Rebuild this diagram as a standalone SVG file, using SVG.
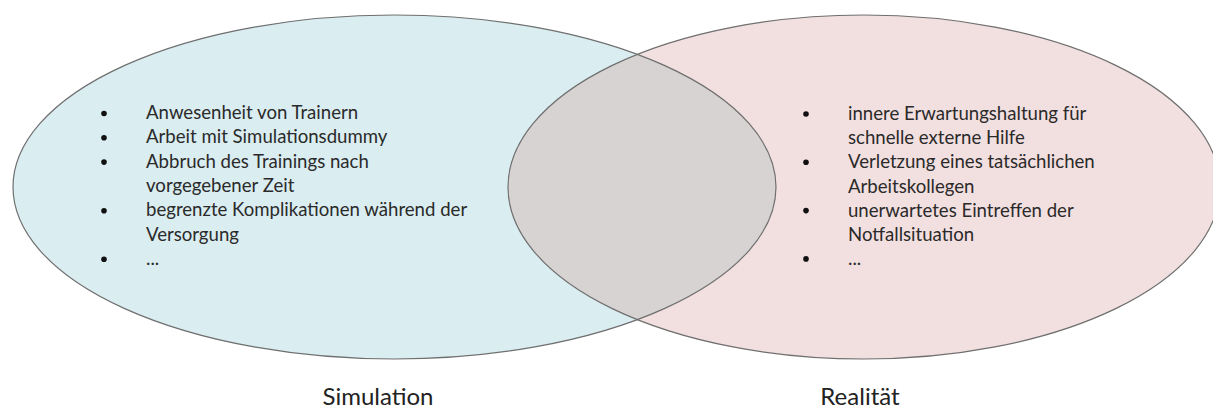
<svg xmlns="http://www.w3.org/2000/svg" width="1213" height="412" viewBox="0 0 1213 412">
  <style>
    .item { font-family: Lato, "Open Sans", "Liberation Sans", sans-serif; font-size: 18.6px; fill: #2a2a2a; }
    .label { font-family: Lato, "Open Sans", "Liberation Sans", sans-serif; font-size: 24px; fill: #222; text-anchor: middle; }
    .outline { fill: none; stroke: #6f6f6f; stroke-width: 1.2; }
    .bullet { fill: #111; }
  </style>
  <defs>
    <clipPath id="clipLeft">
      <ellipse cx="394.5" cy="187" rx="381.5" ry="172"/>
    </clipPath>
  </defs>
  <g id="simulation">
    <ellipse cx="394.5" cy="187" rx="381.5" ry="172" fill="#daedf1"/>
  </g>
  <g id="realitaet">
    <ellipse cx="864" cy="187" rx="356" ry="172" fill="#f2dfdf"/>
  </g>
  <g id="overlap">
    <ellipse cx="864" cy="187" rx="356" ry="172" fill="#d8d3d3" clip-path="url(#clipLeft)"/>
  </g>
  <g id="outlines">
    <ellipse class="outline" cx="394.5" cy="187" rx="381.5" ry="172"/>
    <ellipse class="outline" cx="864" cy="187" rx="356" ry="172"/>
  </g>
  <g id="simulation-list">
    <circle class="bullet" cx="104" cy="113.5" r="2.8"/>
    <circle class="bullet" cx="104" cy="137.8" r="2.8"/>
    <circle class="bullet" cx="104" cy="162.1" r="2.8"/>
    <circle class="bullet" cx="104" cy="210.7" r="2.8"/>
    <circle class="bullet" cx="104" cy="259.3" r="2.8"/>
    <text class="item" x="146" y="119">Anwesenheit von Trainern</text>
    <text class="item" x="146" y="143.3">Arbeit mit Simulationsdummy</text>
    <text class="item" x="146" y="167.6">Abbruch des Trainings nach</text>
    <text class="item" x="146" y="191.9">vorgegebener Zeit</text>
    <text class="item" x="146" y="216.2">begrenzte Komplikationen während der</text>
    <text class="item" x="146" y="240.5">Versorgung</text>
    <text class="item" x="146" y="264.8">...</text>
  </g>
  <g id="realitaet-list">
    <circle class="bullet" cx="806" cy="114" r="2.8"/>
    <circle class="bullet" cx="806" cy="162.3" r="2.8"/>
    <circle class="bullet" cx="806" cy="210.6" r="2.8"/>
    <circle class="bullet" cx="806" cy="258.9" r="2.8"/>
    <text class="item" x="848" y="120">innere Erwartungshaltung für</text>
    <text class="item" x="848" y="144.2">schnelle externe Hilfe</text>
    <text class="item" x="848" y="168.4">Verletzung eines tatsächlichen</text>
    <text class="item" x="848" y="192.6">Arbeitskollegen</text>
    <text class="item" x="848" y="216.8">unerwartetes Eintreffen der</text>
    <text class="item" x="848" y="241">Notfallsituation</text>
    <text class="item" x="848" y="265.2">...</text>
  </g>
  <g id="labels">
    <text class="label" x="378" y="405">Simulation</text>
    <text class="label" x="860" y="405">Realität</text>
  </g>
</svg>
